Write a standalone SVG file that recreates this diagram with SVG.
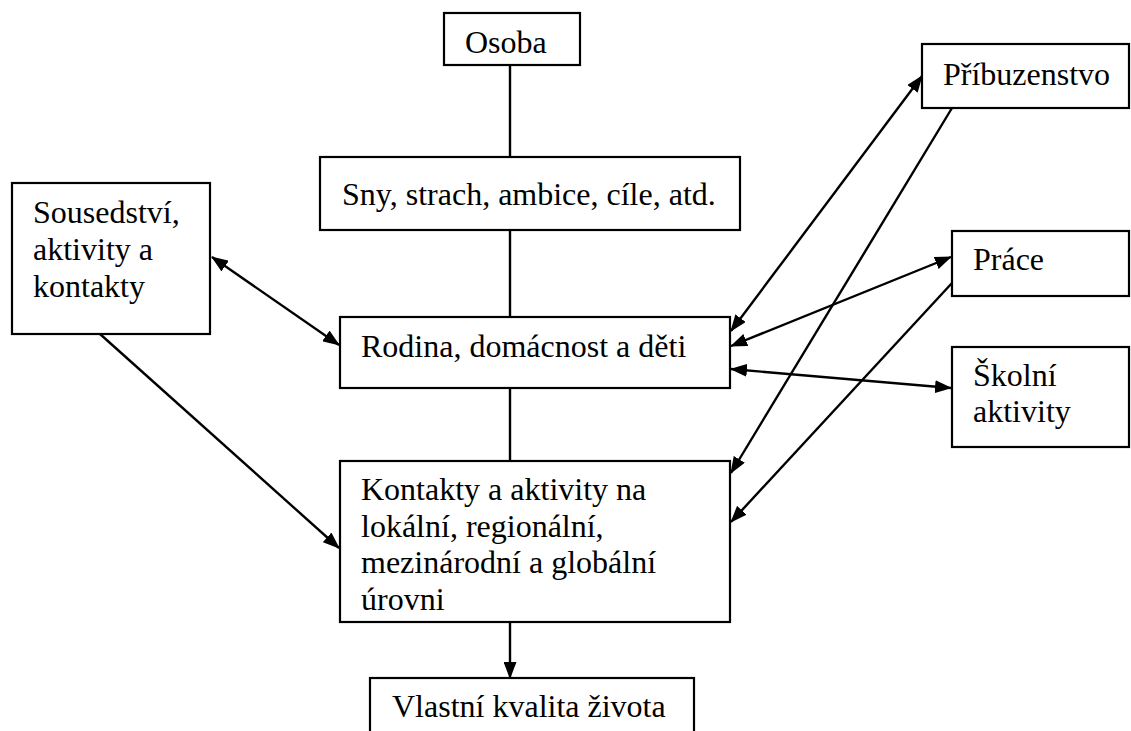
<svg xmlns="http://www.w3.org/2000/svg" width="1131" height="731" viewBox="0 0 1131 731">
<style>
.box{fill:#fff;stroke:#000;stroke-width:2.2}
.t{font-family:"Liberation Serif","Times New Roman",serif;font-size:32px;fill:#000}
.c{stroke:#000;stroke-width:2.4;fill:none}
.a{marker-end:url(#ah)}
.d{marker-start:url(#ah);marker-end:url(#ah)}
</style>
<defs>
<marker id="ah" viewBox="0 0 17 13" refX="16" refY="6.5" markerWidth="17" markerHeight="13" markerUnits="userSpaceOnUse" orient="auto-start-reverse">
<path d="M0,0 L17,6.5 L0,13 z" fill="#000"/>
</marker>
</defs>
<rect width="1131" height="731" fill="#fff"/>
<g id="connectors">
<line class="c" x1="510" y1="65" x2="510" y2="157"/>
<line class="c" x1="510" y1="230" x2="510" y2="317"/>
<line class="c" x1="510" y1="388" x2="510" y2="461"/>
<line class="c a" x1="510" y1="622" x2="510" y2="678"/>
<line class="c d" x1="922" y1="76" x2="731" y2="331"/>
<line class="c a" x1="952" y1="108" x2="731" y2="473"/>
<line class="c d" x1="951" y1="257" x2="731" y2="346"/>
<line class="c a" x1="952" y1="283" x2="731" y2="522"/>
<line class="c d" x1="951" y1="388" x2="731" y2="369"/>
<line class="c d" x1="212" y1="257" x2="339" y2="345"/>
<line class="c a" x1="100" y1="334" x2="339" y2="548"/>
</g>
<g id="osoba">
<rect class="box" x="444" y="13" width="136" height="52"/>
<text class="t" x="465" y="53">Osoba</text>
</g>
<g id="sny">
<rect class="box" x="320" y="157" width="420" height="73"/>
<text class="t" x="342" y="205">Sny, strach, ambice, cíle, atd.</text>
</g>
<g id="sousedstvi">
<rect class="box" x="12" y="183" width="198" height="151"/>
<text class="t" x="33" y="223">Sousedství,</text>
<text class="t" x="33" y="260">aktivity a</text>
<text class="t" x="33" y="297">kontakty</text>
</g>
<g id="rodina">
<rect class="box" x="340" y="317" width="390" height="71"/>
<text class="t" x="361" y="357">Rodina, domácnost a děti</text>
</g>
<g id="kontakty">
<rect class="box" x="340" y="461" width="390" height="161"/>
<text class="t" x="361" y="500">Kontakty a aktivity na</text>
<text class="t" x="361" y="537">lokální, regionální,</text>
<text class="t" x="361" y="573">mezinárodní a globální</text>
<text class="t" x="361" y="610">úrovni</text>
</g>
<g id="vlastni">
<rect class="box" x="370" y="678" width="324" height="70"/>
<text class="t" x="392" y="717">Vlastní kvalita života</text>
</g>
<g id="pribuzenstvo">
<rect class="box" x="922" y="44" width="207" height="64"/>
<text class="t" x="943" y="85">Příbuzenstvo</text>
</g>
<g id="prace">
<rect class="box" x="952" y="231" width="177" height="65"/>
<text class="t" x="973" y="270">Práce</text>
</g>
<g id="skolni">
<rect class="box" x="952" y="347" width="177" height="100"/>
<text class="t" x="973" y="386">Školní</text>
<text class="t" x="973" y="422">aktivity</text>
</g>
</svg>
